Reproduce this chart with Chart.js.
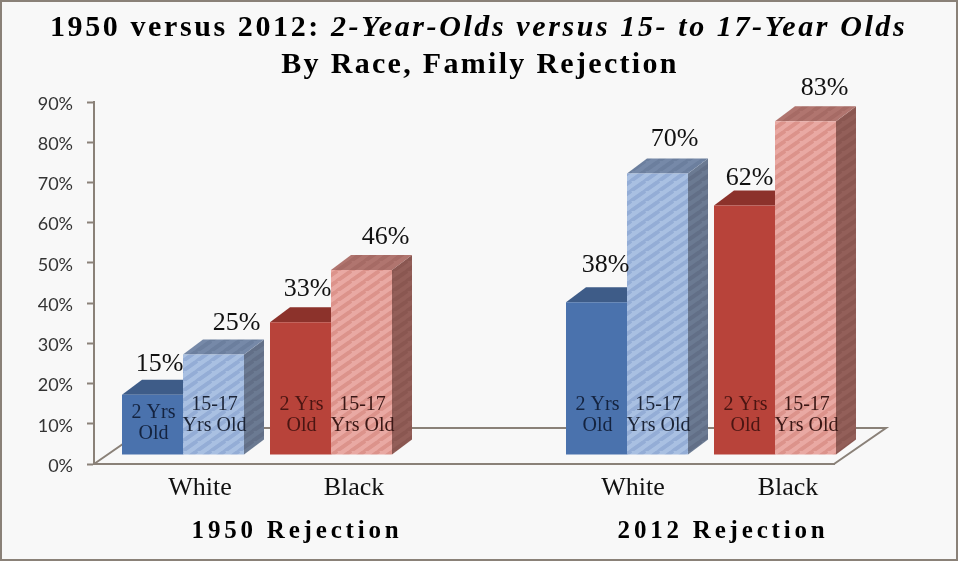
<!DOCTYPE html>
<html><head><meta charset="utf-8">
<style>html,body{margin:0;padding:0;background:#f8f8f8}#w{position:relative;width:958px;height:561px}</style>
<script src="https://cdn.jsdelivr.net/npm/chart.js@4/dist/chart.umd.min.js"></script>
</head><body><div id="w"><canvas id="c" width="958" height="561"></canvas></div>
<script>
const categories = ['White','Black','','White','Black'];
const twoYearOlds = [15,33,null,38,62];
const teens = [25,46,null,70,83];
const yTicks = [0,10,20,30,40,50,60,70,80,90];
const titleRoman = '1950 versus 2012: ';
const titleItalic = '2-Year-Olds versus 15- to 17-Year Olds';
const subtitle = 'By Race, Family Rejection';
const groupTitles = ['1950 Rejection','2012 Rejection'];
const innerDark = ['2 Yrs','Old'];
const innerLight = ['15-17','Yrs Old'];

// layout nudges (px), separate from the data
const xLabelNudge = [32,38,0,21,28];
const darkLabelNudge = [[7,-30],[7,-33],null,[9,-37],[5,-27]];
const lightLabelNudge = [[23,-31],[24,-33],null,[17,-34],[19,-33]];
const DEPTH = {x:20,y:-15}, FLOOR = {x:52,y:-36}, SHIFT = {x:15,y:-9};
const SERIF = '"Liberation Serif"';

function stripes(bg, fg){
  const w = 14, h = 10, c = document.createElement('canvas'); c.width = w; c.height = h;
  const g = c.getContext('2d');
  g.fillStyle = bg; g.fillRect(0,0,w,h);
  g.strokeStyle = fg; g.lineWidth = 3.5;
  for (let k=-2;k<=2;k++){ g.beginPath(); g.moveTo(k*w,h); g.lineTo(k*w+w,0); g.stroke();
    g.beginPath(); g.moveTo(k*w,2*h); g.lineTo(k*w+2*w,0); g.stroke(); }
  return g.createPattern(c,'repeat');
}
const palette = {
  dark:[{front:'#4a72ad',top:'#3e5c88',side:'#3e5c88',ink:'#14233f'},{front:'#b8433a',top:'#8c322b',side:'#8c322b',ink:'#4a1512'}],
  light:[{front:stripes('#a9c0e2','#94add6'),top:stripes('#7689a8','#6c7f9e'),side:stripes('#6b7a92','#626f87'),ink:'#1c2436'},
         {front:stripes('#e9a9a3','#dc938b'),top:stripes('#b0756f','#a66b65'),side:stripes('#935f59','#8a5751'),ink:'#3a1715'}]
};
const hue = i => i < 2 ? (i===0?0:1) : (i===3?0:1);

function poly(ctx, pts, fill){
  ctx.beginPath(); pts.forEach((p,i)=> i?ctx.lineTo(p[0],p[1]):ctx.moveTo(p[0],p[1])); ctx.closePath();
  ctx.fillStyle = fill; ctx.fill();
}
function spaced(ctx, txt, x, y, sp){ ctx.letterSpacing = sp+'px'; ctx.fillText(txt,x,y); ctx.letterSpacing='0px'; }

const frame = {
  id:'frame',
  beforeDraw(chart){
    const {ctx,width,height} = chart;
    // tick labels sit off-centre in the source: nudge them at draw time only
    const s = chart.scales.x;
    if(!s._nudged){s._nudged=true;const f=s.getPixelForTick.bind(s);s.getPixelForTick=i=>f(i)+xLabelNudge[i];}
    ctx.save();
    ctx.fillStyle = '#f8f8f8'; ctx.fillRect(0,0,width,height);
    ctx.strokeStyle = '#8a8178'; ctx.lineWidth = 4; ctx.strokeRect(0,0,width,height);
    const a = chart.chartArea;
    ctx.strokeStyle = '#8a8178'; ctx.lineWidth = 2;
    ctx.beginPath();
    ctx.moveTo(a.left,a.bottom); ctx.lineTo(a.left+FLOOR.x,a.bottom+FLOOR.y);
    ctx.lineTo(a.right+FLOOR.x,a.bottom+FLOOR.y); ctx.lineTo(a.right,a.bottom);
    ctx.stroke();
    ctx.restore();
  },
  beforeDatasetsDraw(chart){
    const ctx = chart.ctx;
    ctx.save();
    ctx.translate(SHIFT.x,SHIFT.y);
    [0,1].forEach(ds=>{
      const set = ds===0?palette.dark:palette.light;
      chart.getDatasetMeta(ds).data.forEach((b,i)=>{
        if (chart.data.datasets[ds].data[i]==null) return;
        const p = b.getProps(['x','y','base','width']);
        const L=p.x-p.width/2,R=p.x+p.width/2,T=p.y,B=p.base,c=set[hue(i)];
        poly(ctx,[[R,T],[R+DEPTH.x,T+DEPTH.y],[R+DEPTH.x,B+DEPTH.y],[R,B]],c.side);
        poly(ctx,[[L,T],[L+DEPTH.x,T+DEPTH.y],[R+DEPTH.x,T+DEPTH.y],[R,T]],c.top);
      });
    });
  },
  afterDatasetsDraw(chart){
    const ctx = chart.ctx;
    ctx.restore();
    ctx.save();
    ctx.textAlign='center'; ctx.textBaseline='middle';
    [[twoYearOlds,darkLabelNudge,0,innerDark,palette.dark],[teens,lightLabelNudge,1,innerLight,palette.light]].forEach(([vals,nudge,ds,inner,set])=>{
      chart.getDatasetMeta(ds).data.forEach((b,i)=>{
        if (vals[i]==null) return;
        const p = b.getProps(['x','y','base']);
        const cx=p.x+SHIFT.x, top=p.y+SHIFT.y, base=p.base+SHIFT.y;
        ctx.fillStyle='#111'; ctx.font='26px '+SERIF;
        ctx.fillText(vals[i]+'%',cx+nudge[i][0],top+nudge[i][1]);
        ctx.fillStyle=set[hue(i)].ink; ctx.font='20px '+SERIF;
        const drop = (ds===0&&i===0)?8:0;
        ctx.fillText(inner[0],cx+1,base-50+drop);
        ctx.fillText(inner[1],cx+1,base-29+drop);
      });
    });
    ctx.fillStyle='#000';
    ctx.textAlign='left';
    ctx.font='bold 30px '+SERIF; ctx.letterSpacing='2.6px';
    const w1=ctx.measureText(titleRoman).width;
    ctx.fillText(titleRoman,50,28);
    ctx.font='italic bold 30px '+SERIF;
    ctx.fillText(titleItalic,50+w1,28);
    ctx.letterSpacing='0px';
    ctx.textAlign='center';
    ctx.font='bold 30px '+SERIF; spaced(ctx,subtitle,480,65,2.3);
    const x = chart.scales.x;
    ctx.font='bold 25px '+SERIF;
    spaced(ctx,groupTitles[0],(x.getPixelForValue(0)+x.getPixelForValue(1))/2+55,532,3.8);
    spaced(ctx,groupTitles[1],(x.getPixelForValue(3)+x.getPixelForValue(4))/2+37,532,3.8);
    ctx.restore();
  }
};

new Chart(document.getElementById('c'),{
  type:'bar',
  data:{labels:categories,datasets:[
    {label:'2 Yrs Old',data:twoYearOlds,categoryPercentage:122/148,barPercentage:1,borderWidth:0,backgroundColor:categories.map((_,i)=>palette.dark[hue(i)].front)},
    {label:'15-17 Yrs Old',data:teens,categoryPercentage:122/148,barPercentage:1,borderWidth:0,backgroundColor:categories.map((_,i)=>palette.light[hue(i)].front)}
  ]},
  plugins:[frame],
  options:{
    responsive:false,animation:false,
    layout:{padding:{left:0,right:124,top:102,bottom:0}},
    plugins:{legend:{display:false},title:{display:false},tooltip:{enabled:false}},
    scales:{
      x:{
        grid:{display:false,drawTicks:false},
        border:{color:'#8a8178',width:2},
        ticks:{autoSkip:false,maxRotation:0,padding:9,color:'#111',font:{family:'"Liberation Serif"',size:26}},
        afterFit(s){ s.height=97; }
      },
      y:{
        min:yTicks[0],max:yTicks[yTicks.length-1],
        afterBuildTicks(s){s.ticks=yTicks.map(v=>({value:v}));},
        afterFit(s){s.width=94;},
        grid:{drawOnChartArea:false,tickLength:7,color:'#8a8178',tickWidth:2},
        border:{color:'#8a8178',width:2},
        ticks:{padding:14,labelOffset:2,color:'#333',font:{family:'Lato',size:18},callback:v=>v+'%'}
      }
    }
  }
});
</script></body></html>
